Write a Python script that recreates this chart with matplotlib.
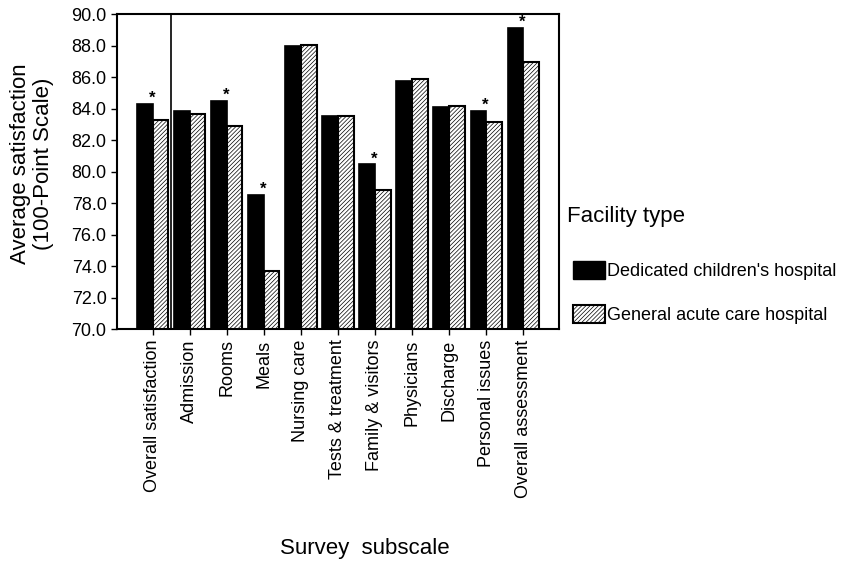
import numpy as np
import matplotlib
matplotlib.use("Agg")
import matplotlib.pyplot as plt
from matplotlib.patches import Patch

plt.rcParams['font.family'] = ['Liberation Sans', 'DejaVu Sans']
plt.rcParams['hatch.linewidth'] = 0.5

# data
subscales = ['Overall satisfaction', 'Admission', 'Rooms', 'Meals', 'Nursing care',
             'Tests & treatment', 'Family & visitors', 'Physicians', 'Discharge',
             'Personal issues', 'Overall assessment']
childrens = [84.3, 83.85, 84.5, 78.5, 88.0, 83.5, 80.45, 85.75, 84.1, 83.85, 89.1]
general = [83.3, 83.65, 82.9, 73.7, 88.05, 83.5, 78.8, 85.9, 84.15, 83.15, 86.95]
significant = [True, False, True, True, False, False, True, False, False, True, True]
yticks = np.arange(70, 90.1, 2)

fig = plt.figure(figsize=(8.44, 5.63), dpi=100)
ax = fig.add_axes([0.1386, 0.4156, 0.5237, 0.5594])

x = np.arange(len(subscales))
w = 0.42
ax.bar(x - w / 2, childrens, w, color='black', edgecolor='black', linewidth=1.2,
       label="Dedicated children's hospital")
ax.bar(x + w / 2, general, w, color='white', edgecolor='black', linewidth=1.5,
       hatch='////////', label='General acute care hospital')

# significance markers
for xi, v, s in zip(x, childrens, significant):
    if s:
        ax.text(xi - 0.02, v + 0.35, '*', ha='center', va='center', fontsize=12,
                fontweight='bold')

ax.axvline(0.5, color='black', linewidth=1.2)

ax.set_xlim(-0.97, 10.97)
ax.set_ylim(70, 90)
ax.set_yticks(yticks)
ax.set_yticklabels([f'{t:.1f}' for t in yticks], fontsize=13)
ax.set_xticks(x)
ax.set_xticklabels(subscales, rotation=90, fontsize=13)
ax.tick_params(direction='out', length=4, width=1)
for sp in ax.spines.values():
    sp.set_linewidth(1.5)

fig.text(0.038, 0.709, 'Average satisfaction\n(100-Point Scale)', rotation=90,
         ha='center', va='center', fontsize=16, linespacing=1.1)
fig.text(0.432, 0.025, 'Survey  subscale', ha='center', va='center', fontsize=16)

# legend
fig.text(0.672, 0.616, 'Facility type', ha='left', va='center', fontsize=16)
handles = [Patch(facecolor='black', edgecolor='black'),
           Patch(facecolor='white', edgecolor='black', hatch='////////', linewidth=1.5)]
fig.legend(handles, ["Dedicated children's hospital", 'General acute care hospital'],
           loc='center left', bbox_to_anchor=(0.679, 0.480),
           frameon=False, fontsize=13, handlelength=1.75,
           handleheight=1.1, handletextpad=0.15, labelspacing=1.4,
           borderaxespad=0, borderpad=0)

fig.savefig('out.png', dpi=100)
